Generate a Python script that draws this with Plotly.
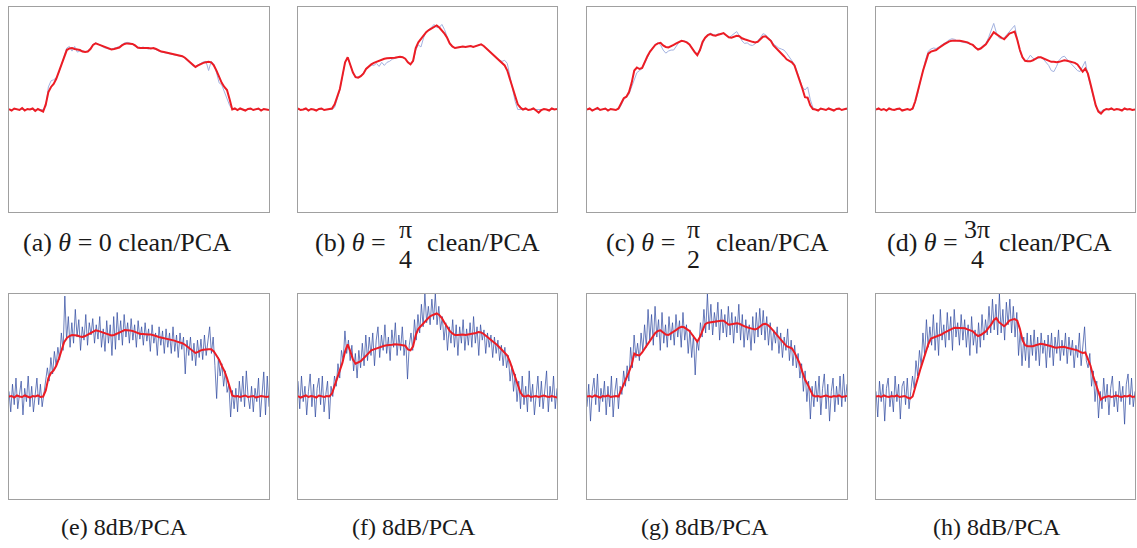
import numpy as np
import plotly.graph_objects as go

# ---- clean-signal panels: PCA reconstruction (red) over the clean profile (blue) ----
red_a = [0.005, -0.01, 0.01, 0.0, -0.005, 0.015, -0.01, 0.005, 0.0, 0.01, -0.015, 0.005, -0.005, -0.02,
         0.05, 0.17, 0.22, 0.25, 0.30, 0.37, 0.45, 0.53, 0.58, 0.595,
         0.60, 0.59, 0.585, 0.58, 0.565, 0.56, 0.565, 0.59, 0.63, 0.645,
         0.635, 0.625, 0.61, 0.60, 0.59, 0.585, 0.59, 0.60, 0.605, 0.625,
         0.64, 0.645, 0.645, 0.64, 0.625, 0.605, 0.60, 0.60, 0.605, 0.60,
         0.595, 0.60, 0.59, 0.575, 0.565, 0.56, 0.555, 0.55, 0.545, 0.54,
         0.535, 0.53, 0.52, 0.505, 0.48, 0.455, 0.43, 0.415, 0.43, 0.445,
         0.455, 0.46, 0.465, 0.46, 0.43, 0.38, 0.31, 0.26, 0.22, 0.19,
         0.10, 0.0, 0.01, -0.005, 0.01, 0.0, -0.01, 0.005, 0.01, -0.005, 0.0, 0.01, -0.01, 0.005, 0.0, -0.005]
blue_a = [0.0] * 14 + [
         0.03, 0.22, 0.28, 0.29, 0.31, 0.36, 0.44, 0.53, 0.60, 0.615,
         0.57, 0.615, 0.56, 0.57, 0.575, 0.565, 0.57, 0.595, 0.635, 0.65,
         0.64, 0.625, 0.605, 0.595, 0.59, 0.59, 0.595, 0.605, 0.615, 0.635,
         0.65, 0.655, 0.65, 0.635, 0.615, 0.60, 0.595, 0.61, 0.60, 0.59,
         0.60, 0.595, 0.585, 0.57, 0.56, 0.555, 0.55, 0.545, 0.54, 0.535,
         0.53, 0.525, 0.515, 0.50, 0.475, 0.45, 0.425, 0.42, 0.435, 0.45,
         0.465, 0.47, 0.38, 0.47, 0.44, 0.36, 0.26, 0.24, 0.17, 0.12,
         0.04] + [0.0] * 15

red_b = [0.01, -0.005, 0.0, 0.01, -0.01, 0.005, 0.0, -0.01, 0.005, 0.01, -0.005, 0.0,
         0.0, 0.01, 0.05, 0.13, 0.20, 0.33, 0.46, 0.51, 0.44, 0.36,
         0.315, 0.31, 0.325, 0.35, 0.395, 0.42, 0.44, 0.455, 0.465, 0.48,
         0.49, 0.495, 0.50, 0.50, 0.505, 0.505, 0.51, 0.515, 0.51, 0.495,
         0.46, 0.44, 0.475, 0.60, 0.655, 0.69, 0.715, 0.755, 0.775, 0.79,
         0.80, 0.82, 0.80, 0.775, 0.74, 0.70, 0.645, 0.615, 0.60, 0.605,
         0.61, 0.615, 0.61, 0.615, 0.62, 0.61, 0.62, 0.625, 0.635, 0.62,
         0.595, 0.575, 0.545, 0.525, 0.50, 0.48, 0.455, 0.43, 0.38, 0.30,
         0.22, 0.12, 0.05, 0.02, 0.0, 0.01, -0.005, 0.0, 0.01, -0.01,
         -0.03, -0.005, 0.005, 0.0, -0.01, 0.01, 0.0, 0.005]
blue_b = [0.0] * 12 + [
         0.0, 0.0, 0.02, 0.10, 0.19, 0.32, 0.46, 0.51, 0.44, 0.36,
         0.32, 0.315, 0.33, 0.36, 0.40, 0.42, 0.435, 0.43, 0.45, 0.42,
         0.46, 0.43, 0.46, 0.47, 0.49, 0.50, 0.51, 0.515, 0.51, 0.495,
         0.46, 0.44, 0.47, 0.58, 0.63, 0.61, 0.70, 0.76, 0.78, 0.80,
         0.83, 0.80, 0.80, 0.83, 0.78, 0.71, 0.64, 0.61, 0.60, 0.605,
         0.61, 0.615, 0.61, 0.615, 0.62, 0.61, 0.62, 0.625, 0.635, 0.62,
         0.595, 0.575, 0.545, 0.525, 0.50, 0.48, 0.47, 0.48, 0.45, 0.33,
         0.20, 0.08] + [0.0] * 16

red_c = [0.0, 0.01, -0.01, 0.005, 0.015, -0.005, 0.0, 0.01, -0.01, 0.005, 0.0, -0.005, 0.01,
         0.06, 0.11, 0.125, 0.17, 0.26, 0.38, 0.41, 0.395, 0.405, 0.465,
         0.52, 0.565, 0.60, 0.63, 0.645, 0.65, 0.625, 0.61, 0.605, 0.615,
         0.63, 0.645, 0.66, 0.67, 0.665, 0.655, 0.635, 0.595, 0.56, 0.53,
         0.58, 0.66, 0.70, 0.725, 0.735, 0.725, 0.72, 0.73, 0.735, 0.745,
         0.725, 0.705, 0.70, 0.71, 0.72, 0.715, 0.695, 0.685, 0.675, 0.665,
         0.66, 0.655, 0.66, 0.685, 0.71, 0.715, 0.695, 0.67, 0.625, 0.60,
         0.575, 0.55, 0.52, 0.49, 0.475, 0.46, 0.43, 0.36, 0.29, 0.205,
         0.12, 0.115, 0.04, 0.005, 0.0, -0.01, 0.01, 0.0, -0.005, 0.01,
         0.0, -0.01, 0.005, 0.01, -0.005, 0.0, 0.01]
blue_c = [0.0] * 13 + [
         0.04, 0.10, 0.12, 0.15, 0.22, 0.30, 0.36, 0.38, 0.40, 0.45,
         0.51, 0.56, 0.60, 0.635, 0.65, 0.63, 0.58, 0.55, 0.57, 0.58,
         0.58, 0.62, 0.655, 0.67, 0.67, 0.66, 0.64, 0.60, 0.565, 0.545,
         0.57, 0.64, 0.70, 0.73, 0.745, 0.73, 0.725, 0.74, 0.73, 0.745,
         0.72, 0.70, 0.72, 0.74, 0.76, 0.72, 0.67, 0.645, 0.65, 0.63,
         0.625, 0.64, 0.665, 0.70, 0.74, 0.73, 0.70, 0.68, 0.64, 0.62,
         0.60, 0.59, 0.58, 0.55, 0.515, 0.48, 0.44, 0.37, 0.30, 0.22,
         0.19, 0.22, 0.10, 0.02] + [0.0] * 13

red_d = [0.0, 0.01, -0.005, 0.005, -0.01, 0.01, 0.0, -0.005, 0.005, 0.01, -0.01, 0.0, 0.005, -0.005, 0.01,
         0.08, 0.17, 0.28, 0.38, 0.47, 0.545, 0.565, 0.57, 0.58, 0.60,
         0.62, 0.635, 0.65, 0.665, 0.67, 0.672, 0.668, 0.67, 0.665, 0.66,
         0.655, 0.64, 0.63, 0.605, 0.585, 0.595, 0.62, 0.635, 0.675, 0.71,
         0.755, 0.735, 0.715, 0.70, 0.685, 0.715, 0.74, 0.75, 0.76, 0.68,
         0.58, 0.51, 0.475, 0.47, 0.47, 0.48, 0.495, 0.51, 0.51, 0.50,
         0.49, 0.48, 0.465, 0.465, 0.46, 0.465, 0.47, 0.48, 0.475, 0.47,
         0.46, 0.455, 0.44, 0.41, 0.37, 0.40, 0.35, 0.25, 0.14, 0.04,
         -0.02, -0.04, -0.01, 0.005, 0.0, 0.01, -0.005, 0.005, 0.0, -0.01, 0.01, 0.0, 0.005, -0.005, 0.0]
blue_d = [0.0] * 15 + [
         0.07, 0.16, 0.28, 0.39, 0.49, 0.57, 0.59, 0.60, 0.595, 0.61,
         0.63, 0.645, 0.66, 0.68, 0.69, 0.685, 0.67, 0.665, 0.66, 0.655,
         0.65, 0.64, 0.625, 0.60, 0.59, 0.60, 0.625, 0.645, 0.70, 0.77,
         0.84, 0.75, 0.70, 0.69, 0.70, 0.73, 0.76, 0.79, 0.82, 0.69,
         0.57, 0.50, 0.47, 0.49, 0.53, 0.50, 0.49, 0.50, 0.51, 0.49,
         0.46, 0.43, 0.38, 0.37, 0.42, 0.48, 0.51, 0.52, 0.49, 0.46,
         0.43, 0.40, 0.38, 0.37, 0.42, 0.47, 0.33, 0.22, 0.12, 0.03,
         -0.01, -0.02] + [0.0] * 13

# ---- 8 dB noisy panels: PCA reconstruction (red) over the noisy profile (blue) ----
red_e = [0.0, 0.005, -0.01, 0.01, 0.0, -0.005, 0.01, 0.0, -0.01, 0.005, 0.0, 0.01, -0.005, 0.0,
         0.06, 0.18, 0.23, 0.255, 0.30, 0.37, 0.45, 0.53, 0.57, 0.59,
         0.60, 0.60, 0.595, 0.585, 0.58, 0.59, 0.605, 0.62, 0.635, 0.645,
         0.64, 0.63, 0.62, 0.61, 0.60, 0.595, 0.60, 0.61, 0.62, 0.635,
         0.648, 0.65, 0.645, 0.64, 0.63, 0.615, 0.61, 0.61, 0.605, 0.605,
         0.605, 0.60, 0.59, 0.58, 0.575, 0.57, 0.565, 0.56, 0.555, 0.545,
         0.535, 0.53, 0.52, 0.505, 0.485, 0.465, 0.44, 0.425, 0.435, 0.45,
         0.455, 0.46, 0.46, 0.46, 0.44, 0.40, 0.36, 0.30, 0.25, 0.18,
         0.10, 0.01, 0.0, 0.005, -0.005, 0.0, 0.01, -0.005, 0.0, 0.005, -0.01, 0.0, 0.005, 0.0, -0.005, 0.0]
noisy_e = [0.05, -0.15, 0.12, -0.08, 0.18, -0.12, 0.02, 0.15, -0.18, 0.08,
           -0.05, 0.2, -0.1, 0.1, -0.15, 0.05, 0.18, -0.08, 0.12, -0.1,
           0.02, 0.12, 0.28, 0.15, 0.38, 0.22, 0.44, 0.30, 0.48, 0.36,
           0.62, 0.45, 0.98, 0.55, 0.78, 0.48, 0.72, 0.52, 0.85, 0.58,
           0.75, 0.45, 0.68, 0.55, 0.80, 0.50, 0.72, 0.60, 0.76, 0.52,
           0.70, 0.56, 0.78, 0.48, 0.66, 0.44, 0.74, 0.52, 0.70, 0.40,
           0.78, 0.46, 0.82, 0.55, 0.74, 0.50, 0.80, 0.58, 0.72, 0.52,
           0.76, 0.55, 0.70, 0.48, 0.74, 0.56, 0.68, 0.50, 0.72, 0.54,
           0.66, 0.44, 0.70, 0.52, 0.62, 0.40, 0.68, 0.50, 0.64, 0.42,
           0.66, 0.48, 0.62, 0.42, 0.68, 0.44, 0.60, 0.38, 0.62, 0.46,
           0.58, 0.22, 0.55, 0.40, 0.58, 0.35, 0.52, 0.30, 0.55, 0.38,
           0.56, 0.36, 0.60, 0.40, 0.52, 0.68, 0.42, 0.58, 0.30, -0.02,
           0.38, 0.20, 0.32, 0.10, 0.25, 0.04, 0.12, -0.2, 0.06, -0.12,
           0.08, -0.15, 0.15, -0.05, 0.2, -0.1, 0.25, 0.0, -0.12, 0.1,
           -0.15, 0.08, -0.05, 0.18, -0.2, 0.05, 0.24, -0.18, 0.2, -0.1]

red_f = [0.005, -0.01, 0.0, 0.01, -0.005, 0.005, 0.0, -0.01, 0.01, 0.0, -0.005, 0.005,
         0.0, 0.03, 0.11, 0.17, 0.25, 0.33, 0.44, 0.51, 0.44, 0.36,
         0.32, 0.33, 0.345, 0.37, 0.40, 0.43, 0.45, 0.46, 0.47, 0.48,
         0.49, 0.495, 0.50, 0.50, 0.505, 0.51, 0.51, 0.505, 0.50, 0.495,
         0.46, 0.45, 0.49, 0.60, 0.66, 0.69, 0.715, 0.745, 0.77, 0.79,
         0.80, 0.81, 0.795, 0.765, 0.72, 0.68, 0.64, 0.615, 0.60, 0.60,
         0.605, 0.605, 0.60, 0.605, 0.605, 0.61, 0.62, 0.63, 0.625, 0.61,
         0.59, 0.57, 0.55, 0.53, 0.505, 0.48, 0.455, 0.43, 0.40, 0.34,
         0.26, 0.18, 0.10, 0.04, 0.005, 0.0, 0.01, -0.005, 0.0, 0.005,
         -0.005, 0.0, 0.01, 0.0, -0.005, 0.005, 0.0, -0.01]
noisy_f = [0.15, -0.12, 0.20, -0.05, 0.10, -0.18, 0.05, 0.22, -0.1, 0.12,
           -0.2, 0.08, 0.18, -0.08, 0.2, -0.15, 0.02, 0.15, -0.22, 0.1,
           0.0, 0.2, 0.1, 0.32, 0.18, 0.45, 0.35, 0.64, 0.42, 0.55,
           0.35, 0.50, 0.25, 0.42, 0.18, 0.45, 0.28, 0.52, 0.30, 0.60,
           0.35, 0.58, 0.40, 0.62, 0.30, 0.55, 0.68, 0.38, 0.60, 0.45,
           0.70, 0.42, 0.58, 0.35, 0.65, 0.48, 0.72, 0.40, 0.60, 0.45,
           0.68, 0.40, 0.55, 0.17, 0.50, 0.62, 0.45, 0.75, 0.55, 0.80,
           0.62, 0.90, 0.68, 1.0, 0.72, 0.88, 0.70, 0.95, 0.75, 1.0,
           0.70, 0.88, 0.65, 0.78, 0.55, 0.72, 0.45, 0.68, 0.52, 0.75,
           0.48, 0.70, 0.40, 0.68, 0.52, 0.75, 0.45, 0.66, 0.50, 0.72,
           0.48, 0.78, 0.52, 0.68, 0.40, 0.70, 0.55, 0.65, 0.42, 0.62,
           0.48, 0.60, 0.38, 0.58, 0.42, 0.55, 0.35, 0.50, 0.30, 0.48,
           0.28, 0.40, 0.15, 0.30, 0.05, 0.22, -0.05, 0.15, -0.12, 0.20,
           -0.08, 0.1, -0.15, 0.25, -0.05, 0.12, -0.18, 0.05, 0.2, -0.1,
           0.15, -0.12, 0.08, 0.25, -0.15, 0.1, -0.05, 0.2, -0.12, 0.08]

red_g = [0.0, 0.005, -0.005, 0.01, 0.0, -0.01, 0.005, 0.0, 0.01, -0.005, 0.0, 0.005, 0.0,
         0.06, 0.12, 0.17, 0.24, 0.31, 0.42, 0.405, 0.40, 0.43, 0.47,
         0.51, 0.55, 0.59, 0.62, 0.64, 0.645, 0.625, 0.605, 0.60, 0.615,
         0.635, 0.65, 0.67, 0.68, 0.675, 0.66, 0.64, 0.605, 0.57, 0.535,
         0.58, 0.64, 0.705, 0.72, 0.725, 0.725, 0.73, 0.735, 0.74, 0.74,
         0.72, 0.70, 0.705, 0.71, 0.715, 0.71, 0.695, 0.685, 0.675, 0.665,
         0.66, 0.655, 0.665, 0.685, 0.705, 0.71, 0.695, 0.67, 0.64, 0.60,
         0.57, 0.545, 0.52, 0.49, 0.48, 0.47, 0.43, 0.38, 0.32, 0.24,
         0.165, 0.12, 0.06, 0.01, 0.0, 0.005, -0.005, 0.0, 0.01, 0.0,
         -0.005, 0.005, 0.0, 0.01, -0.005, 0.0, 0.005]
noisy_g = [-0.1, 0.12, -0.24, 0.05, 0.18, -0.08, 0.22, -0.15, 0.08, -0.05,
           0.15, -0.18, 0.1, -0.1, 0.2, -0.2, 0.05, 0.18, -0.12, 0.1,
           0.02, 0.25, 0.1, 0.3, 0.15, 0.48, 0.28, 0.6, 0.38, 0.52,
           0.35, 0.62, 0.45, 0.70, 0.48, 0.85, 0.55, 0.80, 0.50, 0.88,
           0.58, 0.75, 0.45, 0.82, 0.52, 0.70, 0.48, 0.78, 0.55, 0.72,
           0.50, 0.80, 0.58, 0.74, 0.48, 0.82, 0.55, 0.70, 0.42, 0.65,
           0.38, 0.60, 0.21, 0.55, 0.45, 0.72, 0.58, 0.85, 0.62, 1.0,
           0.65, 0.90, 0.60, 0.82, 0.68, 0.92, 0.55, 0.85, 0.62, 0.80,
           0.58, 0.88, 0.60, 0.82, 0.52, 0.78, 0.62, 0.90, 0.55, 0.80,
           0.48, 0.75, 0.55, 0.70, 0.45, 0.78, 0.52, 0.82, 0.58, 0.86,
           0.60, 0.84, 0.55, 0.78, 0.50, 0.72, 0.45, 0.65, 0.52, 0.68,
           0.42, 0.62, 0.38, 0.58, 0.45, 0.66, 0.35, 0.55, 0.30, 0.50,
           0.28, 0.42, 0.18, 0.32, 0.05, 0.25, -0.05, 0.15, -0.22, 0.10,
           -0.1, 0.15, -0.05, 0.2, -0.18, 0.08, 0.22, -0.12, 0.12, -0.24,
           0.05, 0.18, -0.15, 0.1, -0.08, 0.2, -0.1, 0.22, -0.05, 0.12]

red_h = [0.0, 0.005, -0.005, 0.01, 0.0, -0.005, 0.005, 0.0, 0.01, -0.005, 0.0, 0.005, -0.01, -0.02,
         0.0, 0.10, 0.18, 0.27, 0.35, 0.44, 0.51, 0.565, 0.575, 0.58,
         0.59, 0.605, 0.62, 0.635, 0.65, 0.66, 0.67, 0.668, 0.67, 0.668,
         0.665, 0.655, 0.645, 0.635, 0.61, 0.59, 0.60, 0.615, 0.635, 0.67,
         0.70, 0.745, 0.765, 0.725, 0.70, 0.685, 0.71, 0.74, 0.75, 0.755,
         0.74, 0.66, 0.55, 0.50, 0.49, 0.49, 0.49, 0.50, 0.51, 0.515,
         0.51, 0.505, 0.50, 0.49, 0.48, 0.475, 0.48, 0.485, 0.485, 0.475,
         0.47, 0.465, 0.46, 0.45, 0.435, 0.425, 0.43, 0.37, 0.30, 0.20,
         0.13, 0.04, -0.03, -0.01, 0.0, 0.005, -0.005, 0.0, 0.01, 0.0, -0.005, 0.005, 0.0, 0.01, -0.005, 0.0]
noisy_h = [0.05, -0.2, 0.15, -0.05, 0.12, -0.24, 0.08, 0.18, -0.1, 0.05,
           -0.15, 0.2, -0.05, 0.12, -0.22, 0.1, 0.15, -0.08, 0.18, -0.12,
           0.05, 0.2, 0.08, 0.35, 0.2, 0.45, 0.3, 0.62, 0.4, 0.75,
           0.48, 0.68, 0.50, 0.80, 0.45, 0.72, 0.40, 0.85, 0.55, 0.70,
           0.48, 0.82, 0.55, 0.78, 0.45, 0.85, 0.58, 0.72, 0.50, 0.80,
           0.55, 0.75, 0.48, 0.70, 0.40, 0.78, 0.50, 0.65, 0.42, 0.72,
           0.48, 0.80, 0.55, 0.75, 0.60, 0.88, 0.62, 0.95, 0.65, 0.90,
           0.60, 1.0, 0.62, 0.85, 0.55, 0.92, 0.70, 0.95, 0.62, 0.88,
           0.58, 0.82, 0.40, 0.65, 0.30, 0.58, 0.35, 0.62, 0.28, 0.60,
           0.40, 0.65, 0.35, 0.58, 0.30, 0.62, 0.42, 0.55, 0.28, 0.60,
           0.38, 0.62, 0.30, 0.58, 0.42, 0.65, 0.35, 0.55, 0.40, 0.62,
           0.32, 0.58, 0.40, 0.55, 0.28, 0.50, 0.38, 0.62, 0.30, 0.52,
           0.68, 0.35, 0.28, 0.42, 0.10, 0.25, -0.05, 0.15, -0.21, 0.05,
           -0.12, 0.18, -0.05, 0.12, -0.18, 0.08, 0.2, -0.1, 0.05, -0.15,
           0.15, -0.05, 0.1, -0.27, 0.12, 0.22, -0.08, 0.18, -0.1, 0.05]

# ---- captions ----
top_labels = ["(a)", "(b)", "(c)", "(d)"]
top_num = ["", "π", "π", "3π"]
top_den = ["", "4", "2", "4"]
bottom_labels = ["(e) 8dB/PCA", "(f) 8dB/PCA", "(g) 8dB/PCA", "(h) 8dB/PCA"]

W, H = 1137, 548
col_px = [(9, 269), (298, 557), (587, 847), (876, 1135)]
top_row_px = (7, 212)
bot_row_px = (294, 499)
caption_a_cx = 127
frac_cx = [None, 405, 694, 977]
bottom_caption_cx = [124, 414, 705, 997]

RED = "#ec1c24"
BLUE_CLEAN = "#a3b2e0"
BLUE_NOISY = "rgba(48, 74, 160, 0.8)"

top_panels = [(blue_a, red_a), (blue_b, red_b), (blue_c, red_c), (blue_d, red_d)]
bottom_panels = [(noisy_e, red_e), (noisy_f, red_f), (noisy_g, red_g), (noisy_h, red_h)]

fig = go.Figure()
layout = {}


def add_panel(idx, blue, red, col, row_px, blue_color, blue_width):
    sfx = "" if idx == 1 else str(idx)
    xb = np.linspace(0, 1, len(blue))
    xr = np.linspace(0, 1, len(red))
    fig.add_trace(go.Scatter(x=xb, y=blue, mode="lines", xaxis="x" + sfx, yaxis="y" + sfx,
                             line=dict(color=blue_color, width=blue_width), hoverinfo="skip"))
    fig.add_trace(go.Scatter(x=xr, y=red, mode="lines", xaxis="x" + sfx, yaxis="y" + sfx,
                             line=dict(color=RED, width=2), hoverinfo="skip"))
    x0, x1 = col_px[col]
    y0, y1 = row_px
    ax = dict(showticklabels=False, ticks="", showgrid=False, zeroline=False,
              showline=True, mirror=True, linecolor="#a0a0a0", linewidth=1, fixedrange=True)
    layout["xaxis" + sfx] = dict(ax, domain=[x0 / W, x1 / W], range=[0, 1], anchor="y" + sfx)
    layout["yaxis" + sfx] = dict(ax, domain=[1 - y1 / H, 1 - y0 / H], range=[-1, 1], anchor="x" + sfx)


for k, (b, r) in enumerate(top_panels):
    add_panel(k + 1, b, r, k, top_row_px, BLUE_CLEAN, 1.0)
for k, (b, r) in enumerate(bottom_panels):
    add_panel(k + 5, b, r, k, bot_row_px, BLUE_NOISY, 0.9)

SERIF = "Liberation Serif, DejaVu Serif, serif"
annotations = []


def px_ann(text, x, y, size, xanchor="center"):
    annotations.append(dict(text=text, x=x / W, y=1 - y / H, xref="paper", yref="paper",
                            xanchor=xanchor, yanchor="middle", showarrow=False,
                            font=dict(family=SERIF, size=size, color="#1a1a1a")))


# top captions (a)-(d); (b)-(d) carry a stacked fraction for θ
for k in range(4):
    if not top_num[k]:
        px_ann(f"{top_labels[k]} <i>θ</i> = 0 clean/PCA", caption_a_cx, 243, 26)
    else:
        fc = frac_cx[k]
        px_ann(f"{top_labels[k]} <i>θ</i> =", fc - 17, 243, 26, "right")
        px_ann(top_num[k], fc, 229, 26)
        px_ann(top_den[k], fc, 259, 26)
        px_ann("clean/PCA", fc + 20, 243, 26, "left")

# bottom captions (e)-(h)
for k in range(4):
    px_ann(bottom_labels[k], bottom_caption_cx[k], 527, 24)

fig.update_layout(**layout)
fig.update_layout(width=W, height=H, margin=dict(l=0, r=0, t=0, b=0),
                  paper_bgcolor="white", plot_bgcolor="white", showlegend=False,
                  annotations=annotations)

fig.write_html("out.html", config={"displayModeBar": False})
